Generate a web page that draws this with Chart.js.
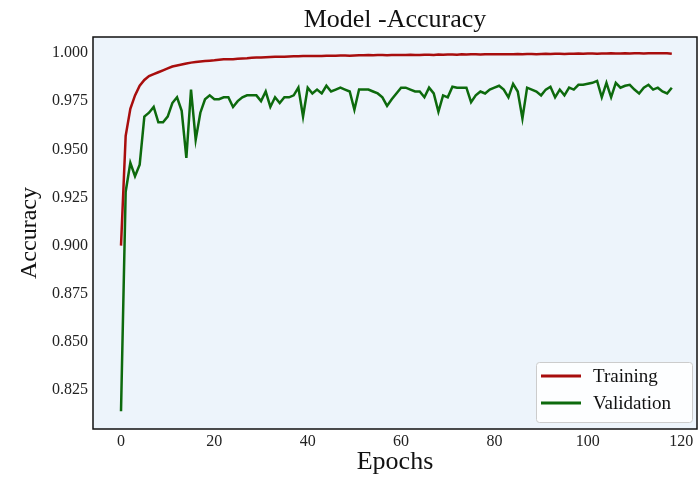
<!DOCTYPE html>
<html>
<head>
<meta charset="utf-8">
<script src="https://cdn.jsdelivr.net/npm/chart.js@4/dist/chart.umd.min.js"></script>
<style>
  body { margin: 0; background: #ffffff; }
  canvas { display: block; }
</style>
</head>
<body>
<canvas id="acc-chart" width="699" height="479"></canvas>
<script>
// Data
var epochs = [];
for (var i = 0; i <= 118; i++) epochs.push(i);

var trainAcc = [
  0.900, 0.957, 0.971, 0.978, 0.983, 0.986, 0.988, 0.989, 0.990, 0.991,
  0.992, 0.993, 0.9935, 0.994, 0.9945, 0.995, 0.9953, 0.9956, 0.9958, 0.996,
  0.9962, 0.9965, 0.9967, 0.9968, 0.9968, 0.997, 0.9972, 0.9973, 0.9975, 0.9976,
  0.9977, 0.9978, 0.9979, 0.998, 0.998, 0.9981, 0.9982, 0.9983, 0.9983, 0.9984,
  0.9984, 0.9985, 0.9985, 0.9985, 0.9986, 0.9986, 0.9986, 0.9987, 0.9987, 0.9986,
  0.9987, 0.9988, 0.9988, 0.9989, 0.9988, 0.9989, 0.9989, 0.9988, 0.999, 0.9989,
  0.999, 0.999, 0.9991, 0.9989, 0.999, 0.9991, 0.9991, 0.999, 0.9992, 0.9991,
  0.9992, 0.9992, 0.9991, 0.9993, 0.9992, 0.9993, 0.9993, 0.9992, 0.9993, 0.9994,
  0.9993, 0.9994, 0.9994, 0.9993, 0.9994, 0.9995, 0.9994, 0.9995, 0.9995, 0.9994,
  0.9995, 0.9996, 0.9995, 0.9996, 0.9996, 0.9995, 0.9996, 0.9996, 0.9997, 0.9996,
  0.9997, 0.9997, 0.9996, 0.9997, 0.9997, 0.9998, 0.9997, 0.9997, 0.9998, 0.9997,
  0.9998, 0.9998, 0.9997, 0.9998, 0.9998, 0.9999, 0.9998, 0.9999, 0.9996
];

var valAcc = [
  0.814, 0.928, 0.943, 0.936, 0.942, 0.967, 0.969, 0.972, 0.964, 0.964,
  0.967, 0.974, 0.977, 0.970, 0.9455, 0.981, 0.955, 0.969, 0.976, 0.978,
  0.976, 0.976, 0.977, 0.977, 0.972, 0.975, 0.977, 0.978, 0.978, 0.978,
  0.975, 0.980, 0.972, 0.977, 0.974, 0.977, 0.977, 0.978, 0.982, 0.967,
  0.982, 0.979, 0.981, 0.979, 0.983, 0.980, 0.981, 0.982, 0.981, 0.980,
  0.9705, 0.981, 0.981, 0.981, 0.980, 0.979, 0.977, 0.9725, 0.976, 0.979,
  0.982, 0.982, 0.981, 0.980, 0.980, 0.977, 0.982, 0.979, 0.9695, 0.978,
  0.977, 0.9825, 0.982, 0.982, 0.982, 0.9745, 0.978, 0.980, 0.979, 0.981,
  0.982, 0.983, 0.981, 0.977, 0.984, 0.980, 0.966, 0.982, 0.981, 0.980,
  0.978, 0.981, 0.9825, 0.977, 0.981, 0.978, 0.982, 0.981, 0.9835, 0.9835,
  0.984, 0.9845, 0.9855, 0.977, 0.9845, 0.977, 0.9845, 0.982, 0.983, 0.9835,
  0.981, 0.979, 0.982, 0.9835, 0.981, 0.982, 0.980, 0.979, 0.982
];

var xTicks = [0, 20, 40, 60, 80, 100, 120];
var yTicks = [0.825, 0.850, 0.875, 0.900, 0.925, 0.950, 0.975, 1.000];

var serif = "'Liberation Serif', 'DejaVu Serif', serif";

// Hellblå baggrund i plotområdet og sort ramme
var plotFrame = {
  id: 'plotFrame',
  beforeDatasetsDraw: function (chart) {
    var a = chart.chartArea, ctx = chart.ctx;
    ctx.save();
    ctx.fillStyle = '#edf4fb';
    ctx.fillRect(a.left, a.top, a.right - a.left, a.bottom - a.top);
    ctx.restore();
  },
  afterDatasetsDraw: function (chart) {
    var a = chart.chartArea, ctx = chart.ctx;
    ctx.save();
    ctx.strokeStyle = '#111111';
    ctx.lineWidth = 1.5;
    ctx.strokeRect(a.left, a.top, a.right - a.left, a.bottom - a.top);
    ctx.restore();
  }
};

// Legend inde i plottet, nederst til højre
var innerLegend = {
  id: 'innerLegend',
  afterDraw: function (chart) {
    var a = chart.chartArea, ctx = chart.ctx;
    var w = 156, h = 60;
    var x = a.right - 5 - w, y = a.bottom - 7 - h;
    ctx.save();
    ctx.fillStyle = 'rgba(255,255,255,0.85)';
    ctx.strokeStyle = '#cccccc';
    ctx.lineWidth = 1;
    ctx.beginPath();
    ctx.roundRect(x + 0.5, y + 0.5, w, h, 3);
    ctx.fill();
    ctx.stroke();
    ctx.font = '19px ' + serif;
    ctx.textBaseline = 'middle';
    chart.data.datasets.forEach(function (ds, i) {
      var ly = y + 14 + i * 27;
      ctx.strokeStyle = ds.borderColor;
      ctx.lineWidth = 3;
      ctx.beginPath();
      ctx.moveTo(x + 5, ly);
      ctx.lineTo(x + 45, ly);
      ctx.stroke();
      ctx.fillStyle = '#111111';
      ctx.fillText(ds.label, x + 57, ly + 1);
    });
    ctx.restore();
  }
};

var ctx = document.getElementById('acc-chart').getContext('2d');
var accChart = new Chart(ctx, {
  type: 'line',
  data: {
    datasets: [{
      label: 'Training',
      data: epochs.map(function (e, i) { return { x: e, y: trainAcc[i] }; }),
      borderColor: '#a80d0d',
      borderWidth: 2.5,
      pointRadius: 0,
      tension: 0,
      fill: false
    }, {
      label: 'Validation',
      data: epochs.map(function (e, i) { return { x: e, y: valAcc[i] }; }),
      borderColor: '#0d6a0d',
      borderWidth: 2.5,
      pointRadius: 0,
      tension: 0,
      fill: false
    }]
  },
  options: {
    responsive: false,
    animation: false,
    layout: { padding: { left: 0, right: 2, top: 0, bottom: 0 } },
    plugins: {
      legend: { display: false },
      tooltip: { enabled: false },
      title: {
        display: true,
        text: 'Model -Accuracy',
        fullSize: false,
        color: '#111111',
        font: { family: serif, size: 26, weight: 'normal' },
        padding: { top: 5, bottom: 0.8 }
      }
    },
    scales: {
      x: {
        type: 'linear',
        min: -6,
        max: 123.4,
        afterBuildTicks: function (s) { s.ticks = xTicks.map(function (v) { return { value: v }; }); },
        afterFit: function (s) { s.height = 50; },
        grid: { display: false, drawTicks: false, tickLength: 0 },
        border: { display: false },
        ticks: { color: '#222222', font: { family: serif, size: 16 }, padding: 3 },
        title: {
          display: true,
          text: 'Epochs',
          color: '#111111',
          font: { family: serif, size: 26 },
          padding: { top: 0, bottom: 1 }
        }
      },
      y: {
        min: 0.8048,
        max: 1.0083,
        afterBuildTicks: function (s) { s.ticks = yTicks.map(function (v) { return { value: v }; }); },
        afterFit: function (s) { s.width = 93; },
        grid: { display: false, drawTicks: false, tickLength: 0 },
        border: { display: false },
        ticks: {
          color: '#222222',
          font: { family: serif, size: 16 },
          padding: 5,
          callback: function (v) { return v.toFixed(3); }
        },
        title: {
          display: true,
          text: 'Accuracy',
          color: '#111111',
          font: { family: serif, size: 24 },
          padding: { top: 15, bottom: 0 }
        }
      }
    }
  },
  plugins: [plotFrame, innerLegend]
});
</script>
</body>
</html>
